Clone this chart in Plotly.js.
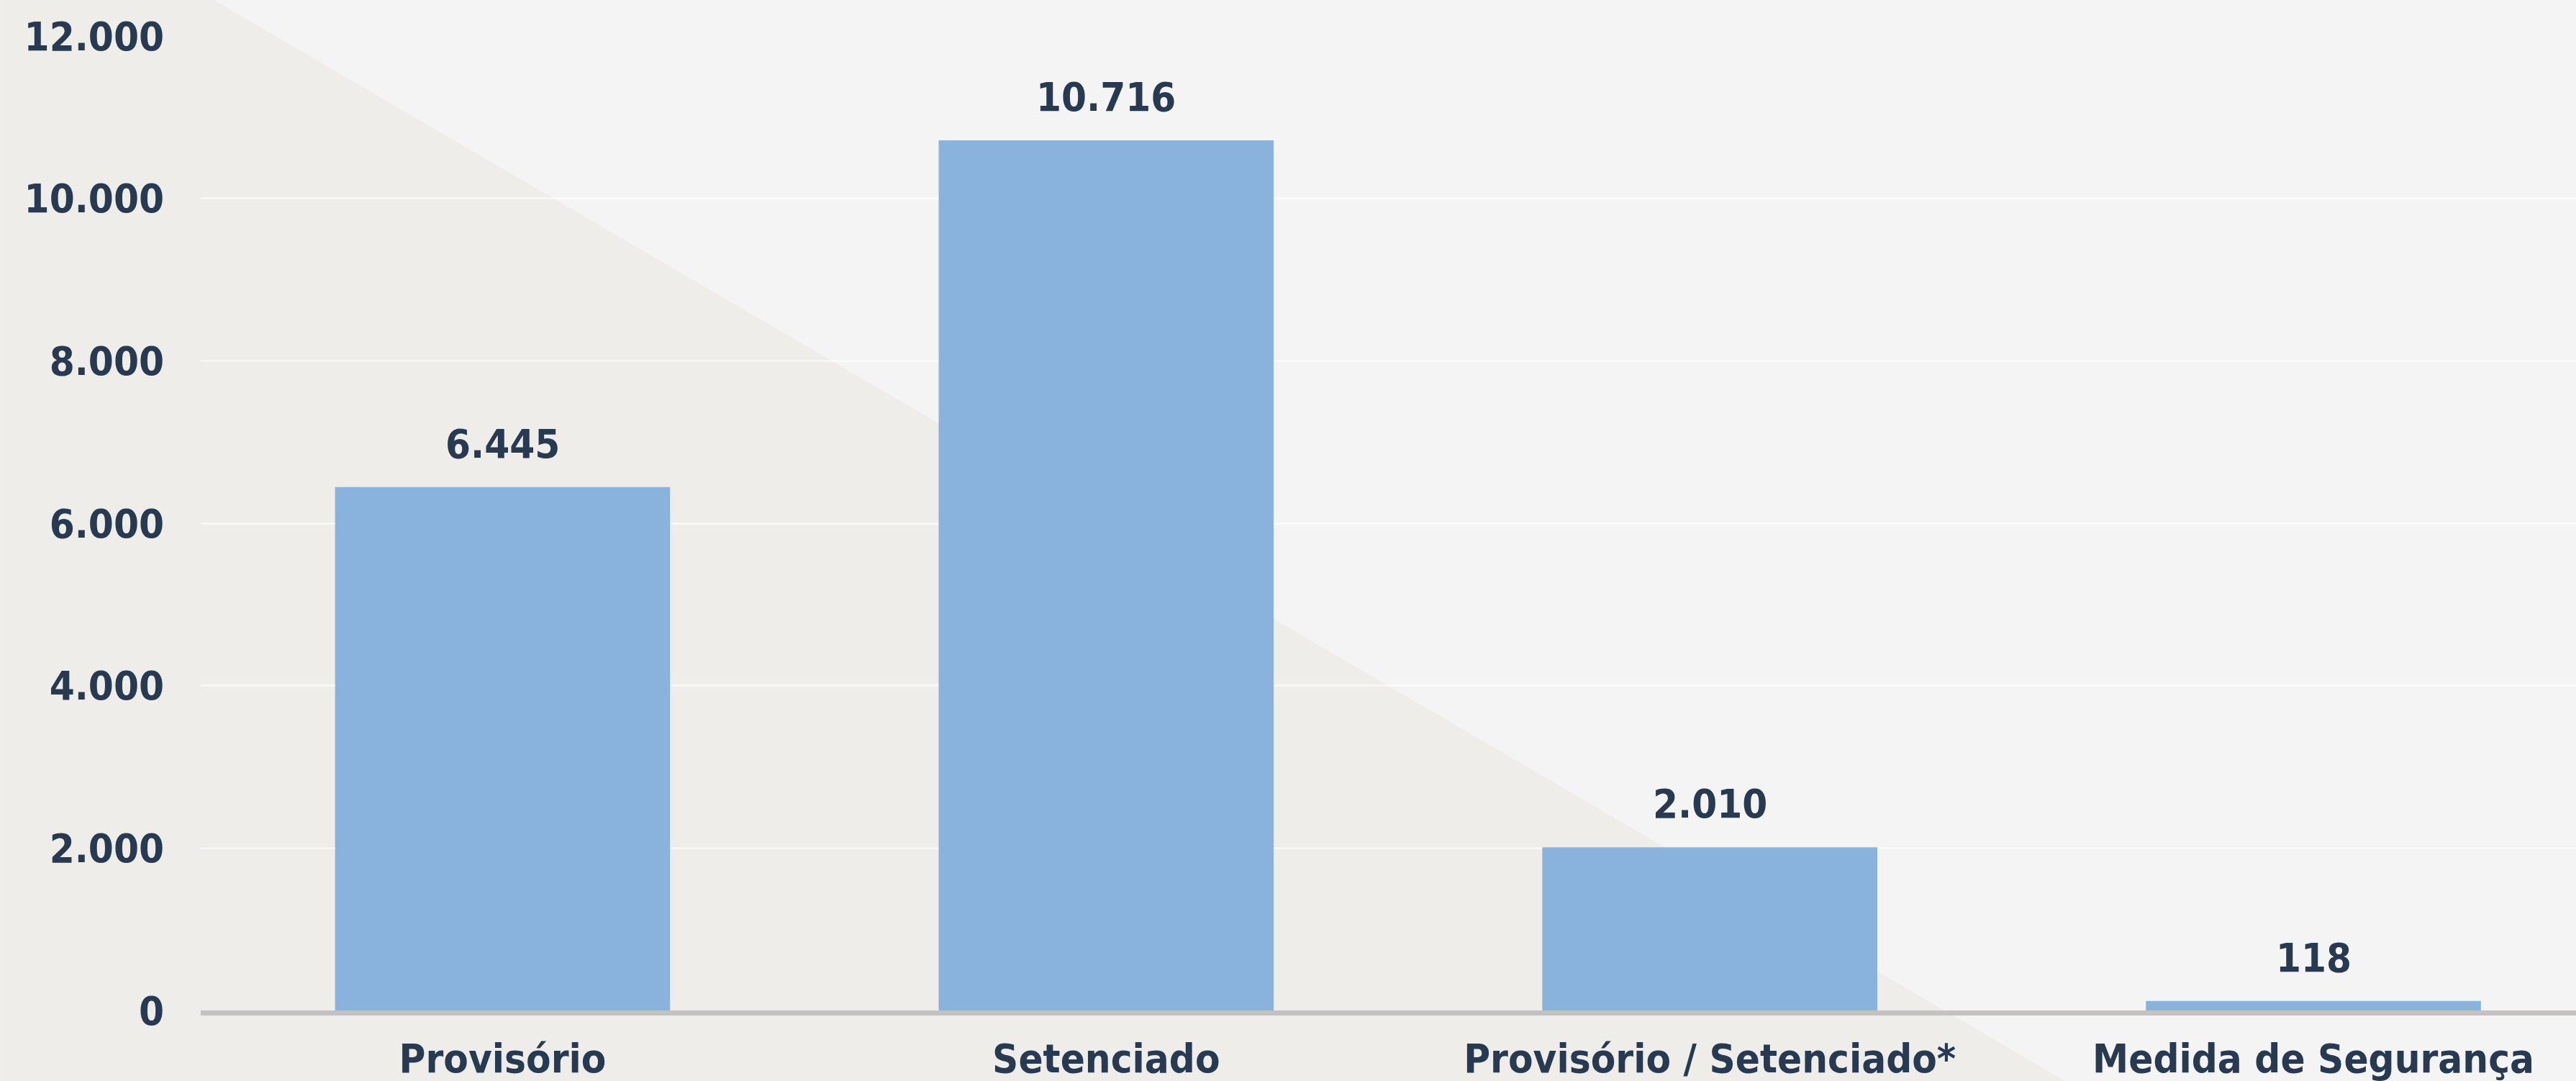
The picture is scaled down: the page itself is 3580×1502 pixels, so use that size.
<!DOCTYPE html>
<html>
<head>
<meta charset="utf-8">
<script src="https://cdn.plot.ly/plotly-3.0.1.min.js"></script>
<style>
  html, body { margin: 0; padding: 0; background: #f4f4f4; }
  #chart { width: 3580px; height: 1502px; }
</style>
</head>
<body>
<div id="chart"></div>
<script>
const categories = ["Provisório", "Setenciado", "Provisório / Setenciado*", "Medida de Segurança"];
const values = [6445, 10716, 2010, 118];
const yTicks = [0, 2000, 4000, 6000, 8000, 10000, 12000];

const textColor = "#273a52";
const fontFamily = "DejaVu Sans Condensed, DejaVu Sans, sans-serif";
const fontSize = 56;

function fmt(v) {
  return String(v).replace(/\B(?=(\d{3})+(?!\d))/g, ".");
}

const trace = {
  type: "bar",
  x: categories,
  y: values,
  marker: { color: "#89b3dd", line: { width: 0 } },
  width: 0.555,
  hoverinfo: "skip"
};

const annotations = categories.map((c, i) => ({
  x: c,
  y: values[i],
  xref: "x",
  yref: "y",
  text: fmt(values[i]),
  showarrow: false,
  yanchor: "bottom",
  yshift: 26,
  font: { family: fontFamily, size: fontSize, color: textColor, weight: "bold" }
}));

const layout = {
  width: 3580,
  height: 1502,
  separators: ",.",
  paper_bgcolor: "#f4f4f4",
  plot_bgcolor: "rgba(0,0,0,0)",
  margin: { l: 279, r: 0, t: 50, b: 98 },
  showlegend: false,
  xaxis: {
    type: "category",
    range: [-0.5, 3.435],
    showgrid: false,
    showline: true,
    linecolor: "#c3c2c0",
    linewidth: 7,
    ticks: "",
    ticklabelstandoff: 12,
    tickfont: { family: fontFamily, size: fontSize, color: textColor, weight: "bold" },
    fixedrange: true
  },
  yaxis: {
    range: [0, 12000],
    tickvals: yTicks,
    tickformat: ",d",
    showgrid: true,
    gridcolor: "rgba(255,255,255,0.55)",
    gridwidth: 3,
    zeroline: false,
    showline: false,
    ticks: "",
    ticklabelstandoff: 50,
    tickfont: { family: fontFamily, size: fontSize, color: textColor, weight: "bold" },
    fixedrange: true
  },
  annotations: annotations,
  shapes: [
    {
      type: "path",
      xref: "paper",
      yref: "paper",
      layer: "below",
      path: "M -0.0845 1.0369 L 0.00545 1.0369 L 0.7849 -0.0724 L -0.0845 -0.0724 Z",
      fillcolor: "#eeedea",
      line: { width: 0 }
    }
  ],
  bargap: 0.445
};

Plotly.newPlot("chart", [trace], layout, { staticPlot: true, displayModeBar: false });
</script>
</body>
</html>
